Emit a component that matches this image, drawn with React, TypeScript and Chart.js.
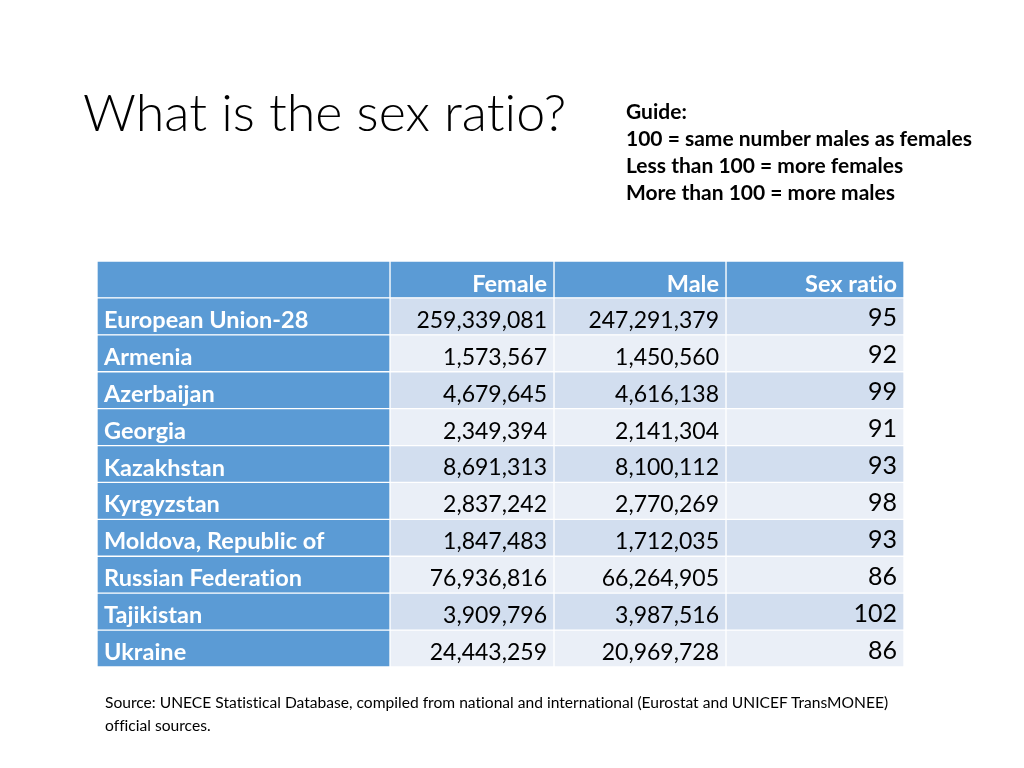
import React, { useEffect, useRef } from 'react';
import { Chart, registerables } from 'chart.js';

Chart.register(...registerables);

const headers = ['', 'Female', 'Male', 'Sex ratio'];
const countries = [
  'European Union-28',
  'Armenia',
  'Azerbaijan',
  'Georgia',
  'Kazakhstan',
  'Kyrgyzstan',
  'Moldova, Republic of',
  'Russian Federation',
  'Tajikistan',
  'Ukraine',
];
const female = [259339081, 1573567, 4679645, 2349394, 8691313, 2837242, 1847483, 76936816, 3909796, 24443259];
const male = [247291379, 1450560, 4616138, 2141304, 8100112, 2770269, 1712035, 66264905, 3987516, 20969728];
const sexRatio = [95, 92, 99, 91, 93, 98, 93, 86, 102, 86];

const COLUMN_WIDTHS = [293, 164, 172, 178];
const FONT = 'Lato, "Open Sans", sans-serif';

const rowLabels = ['header', ...countries];

const fmt = (n: number) => n.toLocaleString('en-US');

const cellText = (c: number, r: number): string => {
  if (r === 0) return headers[c];
  const i = r - 1;
  if (c === 0) return countries[i];
  if (c === 1) return fmt(female[i]);
  if (c === 2) return fmt(male[i]);
  return String(sexRatio[i]);
};

const cellColor = (c: number, r: number) => {
  if (r === 0 || c === 0) return '#5B9BD5';
  return r % 2 === 1 ? '#D2DEEF' : '#EAEFF7';
};

const textPlugin = {
  id: 'tableText',
  afterDatasetsDraw(chart: any) {
    const ctx = chart.ctx;
    ctx.save();
    try { (ctx as any).letterSpacing = '0.01px'; } catch (e) { /* ignore */ }
    chart.data.datasets.forEach((_ds: any, c: number) => {
      const meta = chart.getDatasetMeta(c);
      meta.data.forEach((el: any, r: number) => {
        const left = Math.min(el.x, el.base);
        const right = Math.max(el.x, el.base);
        const cy = el.y;
        const text = cellText(c, r);
        ctx.textBaseline = 'middle';
        if (r === 0 || c === 0) {
          ctx.fillStyle = '#FFFFFF';
          ctx.font = `bold 23.5px ${FONT}`;
        } else if (c === 3) {
          ctx.fillStyle = '#000000';
          ctx.font = `25px ${FONT}`;
        } else {
          ctx.fillStyle = '#000000';
          ctx.font = `23px ${FONT}`;
        }
        let dy = 4;
        if (r === 0) dy = 5;
        else if (c === 3) dy = 2;
        if (c === 0) {
          ctx.textAlign = 'left';
          ctx.fillText(text, left + 7, cy + dy);
        } else {
          ctx.textAlign = 'right';
          ctx.fillText(text, right - 7, cy + dy);
        }
      });
    });
    ctx.restore();
  },
};

const textBase: React.CSSProperties = {
  position: 'absolute',
  fontFamily: FONT,
  color: '#000',
  whiteSpace: 'nowrap',
  fontVariantLigatures: 'none',
};

export default function App() {
  const ref = useRef<HTMLCanvasElement | null>(null);

  useEffect(() => {
    if (!ref.current) return;
    const total = COLUMN_WIDTHS.reduce((a, b) => a + b, 0);
    const chart = new Chart(ref.current, {
      type: 'bar',
      data: {
        labels: rowLabels,
        datasets: COLUMN_WIDTHS.map((w, c) => ({
          label: headers[c] || 'Country',
          data: rowLabels.map(() => w),
          backgroundColor: rowLabels.map((_l, r) => cellColor(c, r)),
          borderColor: '#FFFFFF',
          borderWidth: 1,
          borderSkipped: false,
          barPercentage: 1,
          categoryPercentage: 1,
        })),
      },
      options: {
        indexAxis: 'y',
        responsive: false,
        animation: false,
        layout: { padding: { left: 97, right: 120, top: 261, bottom: 101 } },
        scales: {
          x: { type: 'linear', min: 0, max: total, stacked: true, display: false },
          y: { type: 'category', stacked: true, display: false },
        },
        plugins: {
          legend: { display: false },
          tooltip: { enabled: false },
          title: { display: false },
        },
      },
      plugins: [textPlugin],
    } as any);
    return () => chart.destroy();
  }, []);

  return (
    <div style={{ position: 'fixed', left: 0, top: 0, width: 1024, height: 768, background: '#FFFFFF', overflow: 'hidden' }}>
      <canvas ref={ref} width={1024} height={768} style={{ position: 'absolute', left: 0, top: 0 }} />
      <div style={{ ...textBase, left: 83, top: 85, fontWeight: 300, fontSize: 52, lineHeight: '52px' }}>
        What is the sex ratio?
      </div>
      <div style={{ ...textBase, left: 626, top: 97, fontWeight: 700, fontSize: 21, lineHeight: '27px' }}>
        <div>Guide:</div>
        <div>100 = same number males as females</div>
        <div>Less than 100 = more females</div>
        <div>More than 100 = more males</div>
      </div>
      <div style={{ ...textBase, left: 105, top: 691, fontSize: 15.6, lineHeight: '23px' }}>
        <div>Source: UNECE Statistical Database, compiled from national and international (Eurostat and UNICEF TransMONEE)</div>
        <div>official sources.</div>
      </div>
    </div>
  );
}
